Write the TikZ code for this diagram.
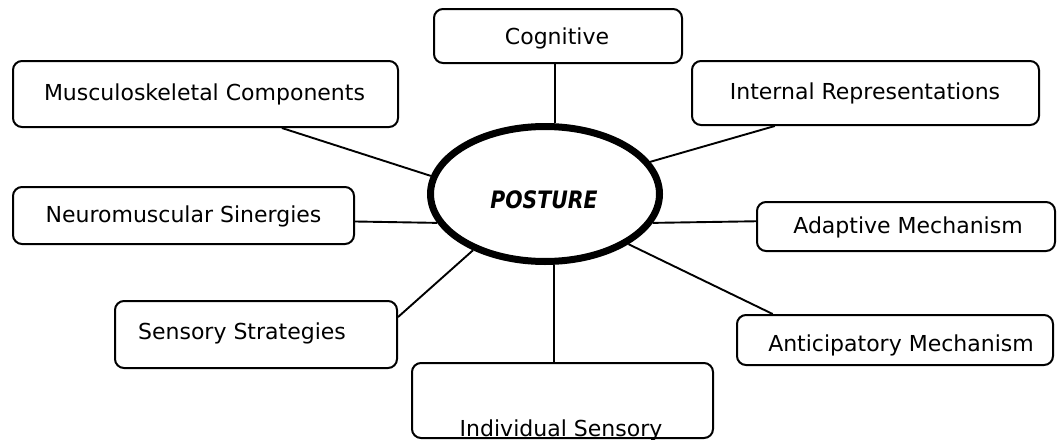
\documentclass[tikz,border=0pt]{standalone}
\usepackage{fontspec}
\setmainfont{DejaVu Sans}
\newfontfamily\pfont[FakeStretch=0.85]{DejaVu Sans}
\usetikzlibrary{shapes.geometric,calc}
\begin{document}
\begin{tikzpicture}[x=1pt,y=-1pt,
  bx/.style n args={2}{draw=black, line width=2pt, rounded corners=9pt, inner sep=0pt,
    minimum width=#1, minimum height=#2},
  lbl/.style={anchor=base, inner sep=0pt, font=\fontsize{22}{26}\selectfont},
  conn/.style={line width=1.9pt},
  hub/.style={draw=black, ellipse, line width=7pt, inner sep=0pt,
    minimum width=229pt, minimum height=135pt}]
\useasboundingbox (0,0) rectangle (1057,439);
% boxes
\node[bx={248pt}{54pt}] (cog) at (558,36) {};
\node[bx={385pt}{66pt}] (mus) at (205.5,94) {};
\node[bx={347pt}{64pt}] (ir) at (865.5,93) {};
\node[bx={341pt}{57pt}] (neu) at (183.5,215.5) {};
\node[bx={298pt}{49pt}] (ada) at (906,226.5) {};
\node[bx={316pt}{50pt}] (ant) at (895,340) {};
\node[bx={282pt}{67pt}] (sen) at (256,334.5) {};
\node[bx={301pt}{75pt}] (ind) at (562.5,400.5) {};
\node[hub] (post) at (545,194) {};
% texts
\node[lbl] (tcog) at (557,44) {Cognitive};
\node[lbl] (tmus) at (204.5,100) {Musculoskeletal Components};
\node[lbl] (tir) at (865,99) {Internal Representations};
\node[lbl] (tneu) at (183.5,222) {Neuromuscular Sinergies};
\node[lbl] (tada) at (908,233) {Adaptive Mechanism};
\node[lbl] (tant) at (901,351) {Anticipatory Mechanism};
\node[lbl] (tsen) at (242,339) {Sensory Strategies};
\node[lbl] (tind) at (561,436) {Individual Sensory};
\node[anchor=base, inner sep=0pt, font=\pfont\bfseries\itshape\fontsize{24}{28}\selectfont] (tpost) at (544,208) {POSTURE};
% connectors
\coordinate (vtop) at (555,0);
\coordinate (vbot) at (554,0);
\draw[conn] (cog.south -| vtop) -- (post.north -| vtop);
\draw[conn] (ind.north -| vbot) -- (post.south -| vbot);
\draw[conn] (ir.200.5) -- (post.17.9);
\draw[conn] (mus.-24.8) -- (post.171.7);
\draw[conn] (neu.-2.2) -- (post.195);
\draw[conn] (ada.178.3) -- (post.-15);
\draw[conn] (sen.7.9) -- (post.218.9);
\draw[conn] (ant.168.5) -- (post.-31);
\end{tikzpicture}
\end{document}
